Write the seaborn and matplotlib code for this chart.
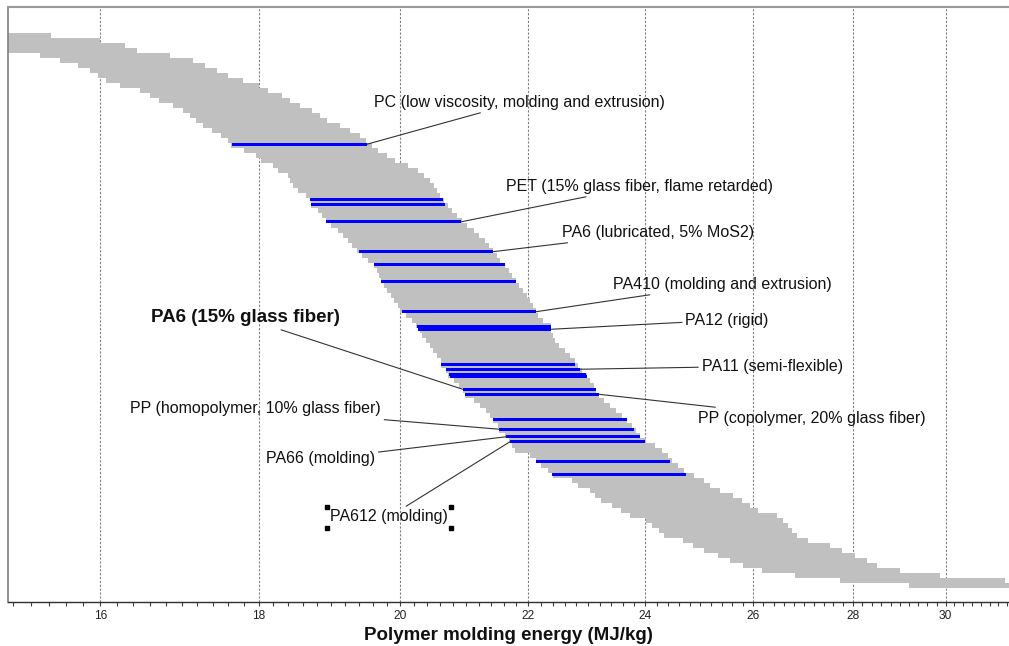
"""Polymer molding energy ranges, highlighted materials with leader-line labels."""

import matplotlib

matplotlib.use("Agg")

import matplotlib.pyplot as plt
import matplotlib.transforms as mtransforms
import numpy as np
import pandas as pd
import seaborn as sns
from matplotlib.lines import Line2D
from matplotlib.text import Text
from matplotlib.ticker import FixedFormatter, FixedLocator, NullFormatter

# whole database, sorted top -> bottom; low / high molding energy (MJ/kg)
band_low = [
    14.50, 14.60, 14.70, 14.80, 15.30, 15.53, 15.74, 15.88, 15.98, 16.07,
    16.24, 16.48, 16.61, 16.71, 16.89, 17.02, 17.11, 17.18, 17.27, 17.39,
    17.50, 17.59, 17.64, 17.81, 17.96, 18.03, 18.19, 18.26, 18.40, 18.43,
    18.47, 18.54, 18.65, 18.71, 18.72, 18.81, 18.87, 18.92, 19.00, 19.09,
    19.16, 19.24, 19.30, 19.37, 19.44, 19.53, 19.62, 19.66, 19.69, 19.72,
    19.76, 19.81, 19.87, 19.91, 19.96, 20.00, 20.08, 20.18, 20.23, 20.29,
    20.33, 20.38, 20.44, 20.50, 20.56, 20.62, 20.62, 20.69, 20.73, 20.82,
    20.89, 20.95, 20.99, 21.13, 21.22, 21.32, 21.38, 21.43, 21.51, 21.53,
    21.62, 21.68, 21.73, 21.78, 22.03, 22.12, 22.21, 22.33, 22.40, 22.72,
    22.83, 23.03, 23.12, 23.22, 23.41, 23.57, 23.73, 24.01, 24.12, 24.24,
    24.33, 24.68, 24.86, 25.07, 25.33, 25.56, 25.81, 26.18, 26.82, 27.74,
    29.20,
]
band_high = [
    15.42, 16.00, 16.30, 16.45, 16.85, 17.14, 17.30, 17.45, 17.59, 17.79,
    18.00, 18.13, 18.32, 18.43, 18.57, 18.73, 18.84, 18.94, 19.13, 19.27,
    19.41, 19.50, 19.59, 19.67, 19.80, 19.92, 20.12, 20.27, 20.36, 20.45,
    20.51, 20.55, 20.60, 20.66, 20.73, 20.79, 20.86, 20.94, 21.02, 21.13,
    21.20, 21.30, 21.36, 21.42, 21.49, 21.54, 21.62, 21.68, 21.73, 21.80,
    21.84, 21.91, 21.98, 22.03, 22.08, 22.12, 22.16, 22.24, 22.37, 22.38,
    22.41, 22.44, 22.50, 22.61, 22.69, 22.77, 22.83, 22.89, 22.98, 23.03,
    23.10, 23.14, 23.18, 23.27, 23.38, 23.48, 23.59, 23.68, 23.76, 23.83,
    23.91, 24.01, 24.17, 24.30, 24.40, 24.48, 24.59, 24.70, 24.88, 25.07,
    25.18, 25.37, 25.62, 25.79, 25.94, 26.10, 26.47, 26.59, 26.68, 26.76,
    26.86, 27.09, 27.53, 27.78, 28.05, 28.30, 28.51, 29.00, 29.88, 31.35,
    31.70,
]

# highlighted materials (rank = position in the sorted list)
hl_material = [
    "PC (low viscosity, molding and extrusion)", "", "",
    "PET (15% glass fiber, flame retarded)", "PA6 (lubricated, 5% MoS2)", "", "",
    "PA410 (molding and extrusion)", "", "PA12 (rigid)", "",
    "PA11 (semi-flexible)", "", "", "PA6 (15% glass fiber)",
    "PP (copolymer, 20% glass fiber)", "", "PP (homopolymer, 10% glass fiber)",
    "PA66 (molding)", "PA612 (molding)", "", "",
]
hl_rank = [44, 66, 68, 75, 87, 92, 99, 111, 117, 118, 132,
           134, 136, 137, 142, 144, 154, 158, 161, 163, 171, 176]
hl_low = [17.65, 18.70, 18.72, 18.93, 19.39, 19.62, 19.72, 20.03, 20.25, 20.27, 20.62,
          20.69, 20.74, 20.76, 20.95, 20.99, 21.43, 21.53, 21.64, 21.70, 22.12, 22.39]
hl_high = [19.51, 20.64, 20.68, 20.93, 21.42, 21.62, 21.80, 22.12, 22.37, 22.38, 22.77,
           22.86, 22.97, 22.98, 23.14, 23.18, 23.68, 23.79, 23.91, 24.00, 24.44, 24.74]

major_ticks = [16, 18, 20, 22, 24, 26, 28, 30]

# label layout: text centre (MJ/kg, rank) and which end of the bar the line goes to
label_layout = {
    "PC (low viscosity, molding and extrusion)": (21.85, 27.6, "high"),
    "PET (15% glass fiber, flame retarded)": (23.90, 61.2, "high"),
    "PA6 (lubricated, 5% MoS2)": (24.22, 79.6, "high"),
    "PA410 (molding and extrusion)": (25.41, 100.4, "high"),
    "PA12 (rigid)": (25.50, 114.8, "high"),
    "PA11 (semi-flexible)": (26.37, 133.2, "high"),
    "PP (copolymer, 20% glass fiber)": (27.17, 154.0, "high"),
    "PA6 (15% glass fiber)": (17.82, 114.0, "low"),
    "PP (homopolymer, 10% glass fiber)": (17.96, 150.4, "low"),
    "PA66 (molding)": (18.85, 170.4, "low"),
    "PA612 (molding)": (19.83, 193.6, "low"),
}

sns.set_theme(style="white")
plt.rcParams["font.family"] = ["Liberation Sans", "DejaVu Sans"]

band = pd.DataFrame({"low": band_low, "high": band_high})
band["rank"] = np.arange(len(band)) * 2 + 1  # each sampled row covers two materials
hl = pd.DataFrame({"material": hl_material, "rank": hl_rank, "low": hl_low, "high": hl_high})

fig = plt.figure(figsize=(10.09, 6.46), dpi=100)
ax = fig.add_axes([8 / 1009, 44 / 646, 1 - 8 / 1009, 595 / 646])
ax.set_xscale("log")

ax.barh(band["rank"], band["high"] - band["low"], left=band["low"], height=2,
        color="#c0c0c0", linewidth=0, antialiased=False, zorder=2)
ax.barh(hl["rank"] + 0.5, hl["high"] - hl["low"], left=hl["low"], height=1.2,
        color="#0000ff", linewidth=0, antialiased=False, zorder=3)

ax.set_xlim(14.94, 31.45)
ax.set_ylim(227.6, -10.4)
ax.set_yticks([])

ax.xaxis.set_major_locator(FixedLocator(major_ticks))
ax.xaxis.set_major_formatter(FixedFormatter([str(t) for t in major_ticks]))
minor = [m for m in np.round(np.arange(15.0, 31.41, 0.2), 1) if m not in major_ticks]
ax.xaxis.set_minor_locator(FixedLocator(minor))
ax.xaxis.set_minor_formatter(NullFormatter())
ax.tick_params(axis="x", which="both", bottom=True, direction="out", length=3,
               width=0.8, color="#404040", labelsize=8.6, labelcolor="#222222", pad=3)
for lbl in ax.get_xticklabels():
    lbl.set_family(["Liberation Sans Narrow", "Liberation Sans", "DejaVu Sans"])

ax.grid(True, axis="x", which="major", color="#808080",
        linestyle=(0, (2, 1.5)), linewidth=0.8)
ax.set_axisbelow(True)

ax.spines["right"].set_visible(False)
ax.spines["top"].set_color("#9a9a9a")
ax.spines["top"].set_linewidth(1.5)
ax.spines["left"].set_color("#808080")
ax.spines["left"].set_linewidth(1.2)
ax.spines["bottom"].set_color("#303030")
ax.spines["bottom"].set_linewidth(1.0)

ax.set_xlabel("Polymer molding energy (MJ/kg)", fontsize=13.5,
              fontweight="bold", color="#111111", labelpad=3)

texts = {}
for row in hl.itertuples():
    if not row.material:
        continue
    tx, ty, end = label_layout[row.material]
    bold = row.material == "PA6 (15% glass fiber)"
    texts[row.material] = ax.annotate(
        row.material,
        xy=(getattr(row, end), row.rank + 0.5),
        xytext=(tx, ty),
        textcoords="data",
        ha="center",
        va="center",
        fontsize=13.5 if bold else 11.5,
        fontweight="bold" if bold else "normal",
        color="#111111",
        arrowprops=dict(arrowstyle="-", color="#333333", lw=0.8,
                        shrinkA=0, shrinkB=0),
        zorder=4,
    )

# selection handles around the PA612 label, as in the source screenshot
fig.canvas.draw()
renderer = fig.canvas.get_renderer()
bb = Text.get_window_extent(texts["PA612 (molding)"], renderer)
for hx in (bb.x0 - 3, bb.x1 + 3):
    for hy in (bb.y0 - 3, bb.y1 + 3):
        fig.add_artist(Line2D([hx], [hy], marker="s", markersize=2.5, color="black",
                              transform=mtransforms.IdentityTransform()))

fig.savefig("out.png", dpi=100)
